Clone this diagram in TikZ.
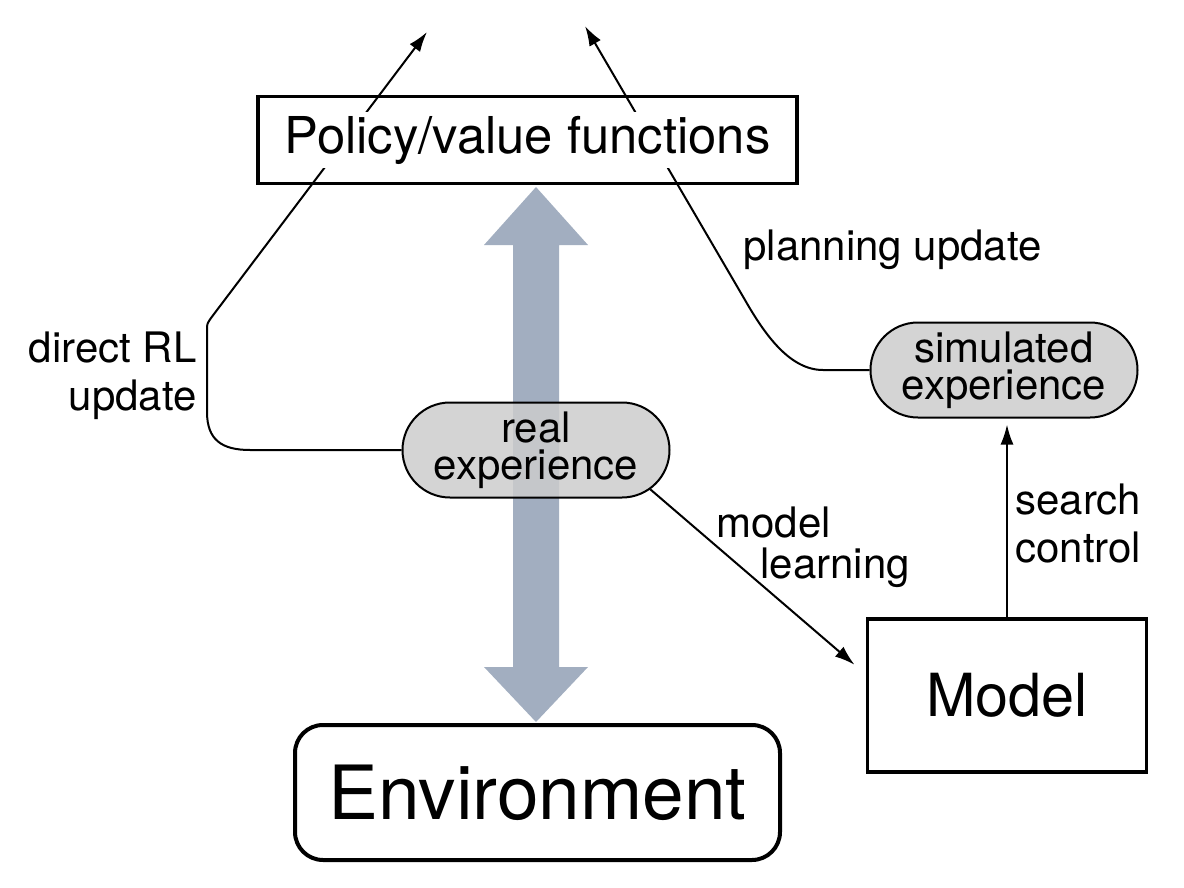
\documentclass[tikz,border=0pt]{standalone}
\usepackage{fontspec}
\setmainfont{TeX Gyre Heros}
\usetikzlibrary{arrows.meta,shapes.misc,calc}
\definecolor{flowgray}{RGB}{162,174,192}
\definecolor{expgray}{RGB}{204,204,204}
\setlength{\fboxsep}{2pt}

\begin{document}
\begin{tikzpicture}[x=0.5pt,y=0.5pt,yscale=-1,
	conn/.style={line width=1pt,-{Latex[length=10pt,width=6.5pt]}},
	expnode/.style={rounded rectangle,draw,line width=1pt,fill=expgray,fill opacity=0.85,text opacity=1,minimum width=133.5pt,minimum height=47.5pt,inner sep=0pt,align=center,font=\fontsize{21}{18.5}\selectfont},
	sqbox/.style={draw,line width=1.6pt,inner sep=0pt},
	lbl/.style={inner sep=0pt,font=\fontsize{21}{24}\selectfont}]
	\useasboundingbox (0,0) rectangle (1184,888);
	\fill[flowgray] (536,187) -- (588,245) -- (559,245) -- (559,667) -- (588,667) -- (536,722) -- (484,667) -- (513,667) -- (513,245) -- (484,245) -- cycle;
	
	\node[expnode] (real) at (536,450) {real\\experience};
	\node[expnode] (sim) at (1004,370) {simulated\\experience};
	\node[sqbox,minimum width=139.5pt,minimum height=76.5pt,font=\fontsize{29.7}{34}\selectfont] (model) at (1007,695.5) {Model};
	\node[sqbox,rounded corners=14pt,line width=2pt,minimum width=242.5pt,minimum height=67.5pt,font=\fontsize{37.4}{44}\selectfont] (env) at (537.5,792.5) {Environment};
	\coordinate (rlend) at (427,32);
	\coordinate (plend) at (585,26);
	
	\draw[conn] (real.west) -- (250,450) .. controls (222,450) and (207,440) .. (207,412) -- (207,330) .. controls (207,324) .. (211,318) -- (rlend);
	\draw[conn] (sim.west) -- (823,370) .. controls (790,370) and (765,335) .. (745,300) -- (plend);
	\draw[conn,shorten >=7.5pt] (real.-19) -- ($(model.west)+(0,-21)$);
	\draw[conn,shorten >=3pt] (model.north) -- (model.north |- sim.south);
	\node[sqbox,minimum width=269.5pt,minimum height=43.5pt,font=\fontsize{25.4}{30}\selectfont] (policy) at (527.5,140) {\raisebox{-2.5pt}{\colorbox{white}{Policy/value functions}}};
	
	\node[lbl,anchor=east,align=right] (rllbl) at (197,375.5) {direct RL\\update};
	\node[lbl,anchor=base west] (pllbl) at (743,260) {planning update};
	\node[lbl,anchor=west,align=left,font=\fontsize{21}{20.5}\selectfont] (mllbl) at (716,547) {model\\\hspace*{22pt}learning};
	\node[lbl,anchor=west,align=left] (sclbl) at (1015,524) {search\\control};
\end{tikzpicture}
\end{document}
